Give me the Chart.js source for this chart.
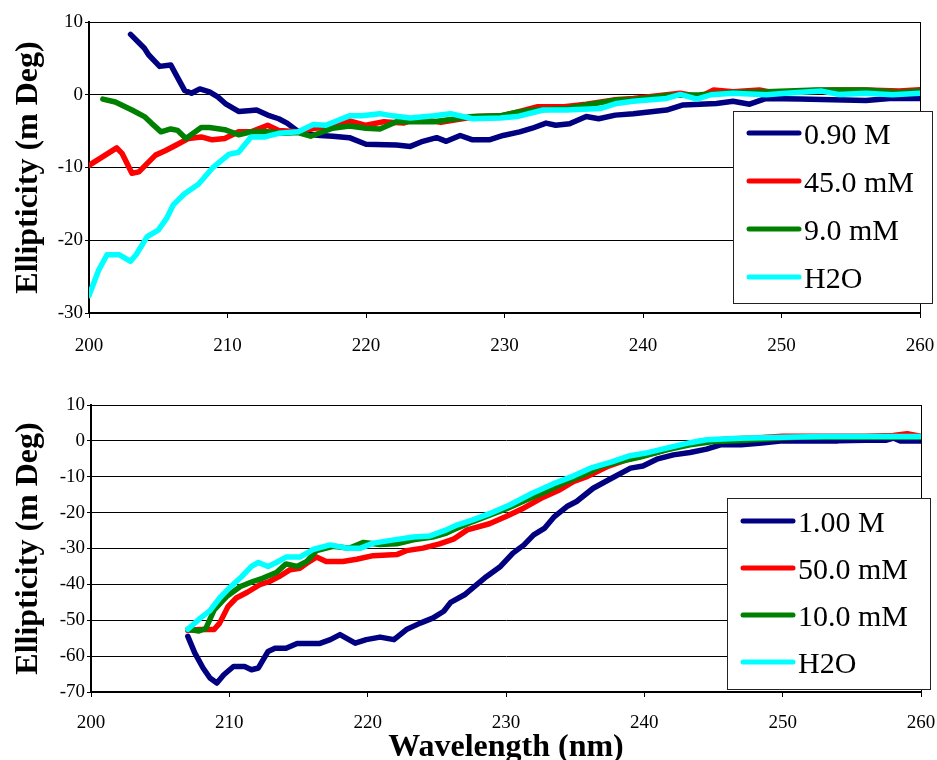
<!DOCTYPE html>
<html>
<head>
<meta charset="utf-8">
<script src="https://cdn.jsdelivr.net/npm/chart.js@4.4.1/dist/chart.umd.min.js"></script>
<style>
body { margin: 0; background: #fff; }
#wrap { position: relative; width: 937px; height: 760px; overflow: hidden; }
canvas { position: absolute; left: 0; }
#top-chart { top: 0; }
#bottom-chart { top: 380px; }
</style>
</head>
<body>
<div id="wrap">
  <canvas id="top-chart" width="937" height="380"></canvas>
  <canvas id="bottom-chart" width="937" height="380"></canvas>
</div>
<script>
// tick values
const xTicks = [200, 210, 220, 230, 240, 250, 260];
const topYTicks = [-30, -20, -10, 0, 10];
const bottomYTicks = [-70, -60, -50, -40, -30, -20, -10, 0, 10];

const topLabels = ['0.90 M', '45.0 mM', '9.0 mM', 'H2O'];
const bottomLabels = ['1.00 M', '50.0 mM', '10.0 mM', 'H2O'];
const seriesColors = ['#000080', '#FF0000', '#008000', '#00FFFF'];

// top panel
const top090Nm = [203, 204, 204.3, 205.1, 205.9, 206.3, 206.9, 207.4, 208, 208.7, 209.3, 209.9, 210.8, 211.5, 212.1, 212.9, 213.7, 214.3, 215, 215.6, 216.7, 217.6, 218.8, 220, 222.2, 223.2, 224.1, 225.1, 225.8, 226.8, 227.7, 228.9, 229.9, 231.1, 232, 233, 233.7, 234.7, 235.9, 236.8, 238, 239.3, 241.7, 242.9, 245.3, 246.5, 247.7, 248.9, 251.3, 253.7, 256.1, 257.8, 260];
const top090Val = [8.3, 6.4, 5.5, 3.9, 4.1, 2.7, 0.6, 0.2, 0.8, 0.4, -0.3, -1.3, -2.3, -2.2, -2.1, -2.8, -3.3, -3.9, -4.9, -5.4, -5.6, -5.7, -5.9, -6.8, -6.9, -7.1, -6.4, -5.9, -6.4, -5.6, -6.2, -6.2, -5.6, -5.1, -4.6, -3.9, -4.2, -4.0, -3.0, -3.3, -2.8, -2.6, -2.1, -1.4, -1.2, -0.9, -1.3, -0.5, -0.6, -0.7, -0.8, -0.5, -0.5];

const top45Nm = [200, 201, 202, 202.4, 203.1, 203.6, 204.8, 205.5, 206.3, 207.2, 208.1, 208.9, 209.8, 210.8, 211.7, 212.9, 213.7, 215.1, 216.3, 217.6, 218.8, 220, 221.3, 222.7, 223.7, 225.4, 226.6, 228, 229.7, 230.9, 232.4, 234.3, 235.9, 237.9, 239.3, 241.7, 242.7, 244.1, 245.1, 246.5, 248.4, 249.6, 251.3, 253.7, 256.1, 258.5, 260];
const top45Val = [-9.7, -8.5, -7.3, -8.1, -10.8, -10.6, -8.3, -7.7, -6.9, -6.0, -5.8, -6.2, -6.0, -5.1, -5.1, -4.2, -4.9, -5.1, -4.6, -4.4, -3.6, -4.2, -3.7, -3.9, -3.25, -3.8, -3.4, -3.0, -2.9, -2.4, -1.65, -1.65, -1.3, -0.7, -0.5, 0, 0.2, -0.3, 0.65, 0.4, 0.65, 0.2, 0.5, 0.65, 0.65, 0.5, 0.7];

const top9Nm = [201, 201.9, 203.1, 204, 204.5, 205.2, 205.9, 206.4, 207, 208.1, 208.7, 209.8, 210.8, 211.7, 212.9, 214.1, 215.1, 216, 217.6, 218.8, 220, 221, 222.2, 223.7, 224.9, 226.1, 227.7, 229.7, 230.9, 232.1, 234.5, 235.9, 238.1, 239.3, 241.7, 244.1, 246.5, 248.9, 252.5, 256.1, 258.5, 260];
const top9Val = [-0.6, -1.0, -2.1, -3.0, -3.9, -5.1, -4.7, -4.9, -6.0, -4.5, -4.5, -4.8, -5.5, -5.1, -5.1, -5.3, -5.2, -5.7, -4.6, -4.3, -4.6, -4.7, -3.7, -3.7, -3.7, -3.4, -3.0, -2.9, -2.4, -2.1, -1.9, -1.4, -0.7, -0.7, -0.1, 0, 0.3, 0.4, 0.65, 0.65, 0.3, 0.5];

const topH2ONm = [200, 200.7, 201.3, 202.2, 203, 203.4, 204.2, 205, 205.6, 206.1, 206.9, 207.9, 208.9, 210.1, 210.8, 211.7, 212.7, 213.7, 215.1, 216.2, 217.1, 218.8, 219.7, 221, 221.9, 223.2, 224.9, 226.1, 227.7, 229.7, 230.9, 232.8, 234.5, 236.9, 238.1, 239.3, 241.7, 242.7, 243.9, 244.9, 246.5, 248.9, 250.3, 252.9, 254.1, 256.1, 258, 260];
const topH2OVal = [-27.6, -24.1, -22.0, -22.0, -22.9, -22.0, -19.5, -18.6, -17.0, -15.1, -13.6, -12.3, -10.1, -8.2, -7.9, -5.8, -5.8, -5.3, -5.1, -4.1, -4.2, -2.9, -2.9, -2.6, -2.9, -3.2, -2.9, -2.6, -3.3, -3.2, -3.0, -2.1, -2.1, -1.9, -1.2, -0.9, -0.5, 0.05, -0.6, 0, 0.2, 0, 0.2, 0.5, 0.05, 0.2, 0, 0.2];

// bottom panel
const bot100Nm = [207, 207.5, 208.1, 208.6, 209.1, 209.6, 210.3, 211.1, 211.6, 212.1, 212.8, 213.3, 214.1, 214.9, 216.5, 217.3, 218, 219.1, 219.9, 220.9, 221.9, 222.8, 223.8, 224.7, 225.5, 226, 227, 227.6, 228.6, 229.6, 230.5, 231.3, 232, 232.8, 233.5, 234.4, 235.1, 236.3, 237.5, 239, 239.9, 240.9, 242.1, 243.3, 244.5, 245.5, 247, 248.5, 250, 252, 254, 256, 257.5, 258, 258.5, 260];
const bot100Val = [-54.5, -59.1, -63.3, -66.1, -67.5, -65.2, -62.9, -62.9, -63.8, -63.3, -58.7, -57.8, -57.8, -56.5, -56.5, -55.4, -54.0, -56.4, -55.4, -54.7, -55.4, -52.6, -50.8, -49.4, -47.5, -45.0, -42.9, -41.0, -37.8, -35.0, -31.3, -29.0, -26.2, -24.3, -21.1, -18.3, -16.9, -13.2, -10.7, -7.6, -7.0, -5.1, -3.9, -3.25, -2.3, -1.1, -1.1, -0.6, 0, 0, 0, 0.2, 0.2, 0.8, 0, 0];

const bot50Nm = [207, 207.9, 208.9, 209.3, 209.9, 210.5, 211.3, 212.2, 212.9, 213.7, 214.4, 215.1, 215.6, 216.3, 217, 218.2, 219.2, 220.4, 222.1, 222.8, 224, 225.2, 226.2, 227.2, 228.8, 230, 231.3, 232.7, 233.9, 234.9, 235.9, 237.3, 238.7, 240.7, 242.6, 244, 246, 248, 250, 252, 254, 256, 258, 259, 260];
const bot50Val = [-52.8, -52.6, -52.6, -50.8, -46.2, -43.8, -42.2, -40.1, -39.2, -37.6, -35.9, -35.5, -34.1, -32.4, -33.6, -33.6, -33.0, -32.0, -31.7, -30.6, -29.9, -28.7, -27.4, -24.8, -23.1, -21.1, -18.7, -15.7, -13.6, -11.3, -9.9, -7.2, -5.3, -3.4, -1.4, -0.2, 0.5, 0.8, 1.3, 1.3, 1.3, 1.3, 1.5, 2.0, 1.3];

const bot10Nm = [207, 207.8, 208.3, 208.9, 209.8, 210.8, 211.7, 212.4, 213.4, 214.1, 214.9, 215.6, 216.3, 217.5, 218.7, 219.7, 220.9, 222.1, 223.3, 224.7, 225.7, 226.2, 227.6, 229.1, 230, 231.5, 232.9, 234.1, 235.6, 236.8, 238.2, 239.7, 241.6, 243.3, 245, 247, 249, 251, 254, 257, 260];
const bot10Val = [-52.5, -53.0, -52.3, -47.1, -43.4, -40.6, -39.2, -38.3, -36.7, -34.3, -35.0, -33.6, -30.6, -29.4, -29.9, -28.3, -28.9, -28.7, -27.6, -26.8, -25.7, -24.8, -22.5, -20.3, -19.0, -16.4, -14.1, -11.8, -9.5, -7.2, -5.8, -4.5, -2.5, -1.1, -0.2, 0.1, 0.6, 1.0, 1.0, 1.0, 1.0];

const botH2ONm = [207, 207.9, 208.6, 209.3, 210, 210.9, 211.6, 212.1, 212.8, 213.4, 214.1, 215.1, 216.1, 217.3, 218.5, 219.5, 220.4, 221.9, 223.3, 224.5, 225.7, 226.5, 227.6, 228.8, 230.3, 231.9, 233.4, 234.9, 236.1, 237.7, 238.9, 240.1, 241.6, 243.3, 244.5, 247, 250, 253, 256, 260];
const botH2OVal = [-52.5, -49.4, -47.3, -43.8, -41.0, -37.8, -35.0, -33.9, -35.0, -33.9, -32.4, -32.4, -30.2, -29.0, -29.9, -29.9, -28.5, -27.6, -26.8, -26.5, -24.8, -23.4, -22.0, -20.3, -17.8, -14.6, -12.0, -9.75, -7.6, -5.8, -4.2, -3.4, -2.0, -0.5, 0.3, 0.7, 1.0, 1.2, 1.2, 1.2];

function pts(nm, vals) {
    return nm.map((x, i) => ({x: x, y: vals[i]}));
}

function makeDatasets(labels, series) {
    return series.map((s, i) => ({
        label: labels[i],
        data: pts(s[0], s[1]),
        borderColor: seriesColors[i],
        backgroundColor: seriesColors[i],
        borderWidth: 5.5,
        pointRadius: 0,
        tension: 0,
        borderJoinStyle: 'round',
        borderCapStyle: 'round',
        order: 4 - i   // later series drawn on top, like the original
    }));
}

// boxed legend inside the plot + right frame line
const boxLegend = {
    id: 'boxLegend',
    afterDraw(chart, args, opts) {
        const ctx = chart.ctx;
        const a = chart.chartArea;
        ctx.save();
        ctx.strokeStyle = '#000';
        ctx.lineWidth = 1;
        ctx.beginPath();
        ctx.moveTo(a.right + 0.5, a.top);
        ctx.lineTo(a.right + 0.5, a.bottom);
        ctx.stroke();

        ctx.fillStyle = '#fff';
        ctx.fillRect(opts.x, opts.y, opts.w, opts.h);
        ctx.strokeStyle = '#222';
        ctx.strokeRect(opts.x + 0.5, opts.y + 0.5, opts.w, opts.h);

        ctx.font = '30px "Liberation Serif", "Times New Roman", serif';
        ctx.textBaseline = 'middle';
        ctx.textAlign = 'left';
        chart.data.datasets.forEach((ds, i) => {
            const y = opts.y + opts.first + i * opts.step;
            ctx.strokeStyle = ds.borderColor;
            ctx.lineWidth = 5;
            ctx.lineCap = 'round';
            ctx.beginPath();
            ctx.moveTo(opts.x + 16, y);
            ctx.lineTo(opts.x + 66, y);
            ctx.stroke();
            ctx.fillStyle = '#000';
            ctx.fillText(ds.label, opts.x + 71, y + 3);
        });
        ctx.restore();
    }
};

const tickFont = {family: '"Liberation Serif", "Times New Roman", serif', size: 19};
const titleFont = {family: '"Liberation Serif", "Times New Roman", serif', size: 32, weight: 'bold', lineHeight: 1};

function makeChart(canvas, cfg) {
    return new Chart(canvas.getContext('2d'), {
        type: 'line',
        data: {datasets: cfg.datasets},
        options: {
            responsive: false,
            animation: false,
            layout: {padding: {left: 0, top: cfg.plotTop, right: 937 - cfg.plotRight, bottom: 0}},
            plugins: {
                legend: {display: false},
                tooltip: {enabled: false},
                boxLegend: cfg.legend
            },
            scales: {
                x: {
                    type: 'linear',
                    min: 200,
                    max: 260,
                    afterBuildTicks: s => { s.ticks = xTicks.map(v => ({value: v})); },
                    afterFit: s => {
                        s.height = 380 - cfg.plotBottom;
                        s.paddingLeft = 0;
                        s.paddingRight = 0;
                    },
                    grid: {drawOnChartArea: false, drawTicks: true, tickLength: 5, color: '#000'},
                    border: {display: true, color: '#000', width: 2},
                    ticks: {font: tickFont, color: '#000', padding: cfg.xPad, maxRotation: 0},
                    title: {
                        display: cfg.xTitle,
                        text: 'Wavelength (nm)',
                        font: titleFont,
                        color: '#000',
                        padding: {top: 0, bottom: -4}
                    }
                },
                y: {
                    type: 'linear',
                    min: cfg.yTicks[0],
                    max: cfg.yTicks[cfg.yTicks.length - 1],
                    afterBuildTicks: s => { s.ticks = cfg.yTicks.map(v => ({value: v})); },
                    afterFit: s => {
                        s.width = cfg.plotLeft;
                        s.paddingTop = 0;
                        s.paddingBottom = 0;
                    },
                    grid: {color: '#000', lineWidth: 1, drawTicks: true, tickLength: 4},
                    border: {display: true, color: '#000', width: 2},
                    ticks: {font: tickFont, color: '#000', padding: 2},
                    title: {
                        display: true,
                        text: 'Ellipticity (m Deg)',
                        font: titleFont,
                        color: '#000',
                        padding: {top: 13, bottom: 0}
                    }
                }
            }
        },
        plugins: [boxLegend]
    });
}

makeChart(document.querySelector('#top-chart'), {
    datasets: makeDatasets(topLabels, [
        [top090Nm, top090Val],
        [top45Nm, top45Val],
        [top9Nm, top9Val],
        [topH2ONm, topH2OVal]
    ]),
    yTicks: topYTicks,
    plotLeft: 89, plotRight: 920, plotTop: 22, plotBottom: 313,
    xPad: 17,
    xTitle: false,
    legend: {x: 733, y: 111, w: 199, h: 192, first: 22, step: 48}
});

makeChart(document.querySelector('#bottom-chart'), {
    datasets: makeDatasets(bottomLabels, [
        [bot100Nm, bot100Val],
        [bot50Nm, bot50Val],
        [bot10Nm, bot10Val],
        [botH2ONm, botH2OVal]
    ]),
    yTicks: bottomYTicks,
    plotLeft: 91, plotRight: 921, plotTop: 25, plotBottom: 312,
    xPad: 15,
    xTitle: true,
    legend: {x: 727, y: 118, w: 203, h: 191, first: 23, step: 47}
});
</script>
</body>
</html>
